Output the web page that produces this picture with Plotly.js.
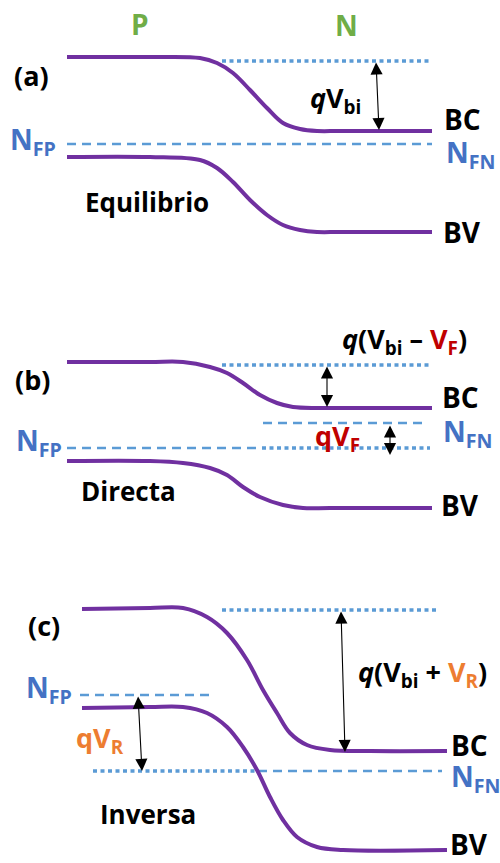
<!DOCTYPE html>
<html>
<head>
<meta charset="utf-8">
<script src="https://cdn.plot.ly/plotly-3.0.1.min.js"></script>
<style>html,body{margin:0;padding:0;background:#fff;}#chart{width:500px;height:863px;}</style>
</head>
<body>
<div id="chart"></div>
<script>
// ---- Panel (a): Equilibrio ----
const cbA_x = [67,150,200,217,233,250,267,283,300,317,340,432];
const cbA_y = [57,57,58,63,73,90,108,123,129,131,131,131];
const vbA_x = [67,150,200,217,233,250,267,283,300,317,340,432];
const vbA_y = [157,157,160,168,182,200,215,225,230,232,232,232];
const efA_x = [67,432];     const efA_y = [144,144];
const refA_x = [222,430];   const refA_y = [61,61];

// ---- Panel (b): Directa ----
const cbB_x = [67,150,183,210,227,243,260,277,293,317,340,432];
const cbB_y = [362,362,362,367,373,383,395,403,407,408,408,408];
const vbB_x = [67,150,183,210,227,243,260,283,303,330,432];
const vbB_y = [461,461,463,468,475,487,497,505,508,508,508];
const refB_x = [222,430];   const refB_y = [365,365];
const efpB_x = [67,262];    const efpB_y = [448,448];
const efpBdot_x = [262,430];const efpBdot_y = [448,448];
const efnB_x = [263,425];   const efnB_y = [423,423];

// ---- Panel (c): Inversa ----
const cbC_x = [82,150,183,207,227,247,263,277,290,307,330,370,447];
const cbC_y = [609,608,608,617,633,660,690,713,733,745,750,751,751];
const vbC_x = [82,150,183,207,227,243,257,270,283,297,317,343,447];
const vbC_y = [708,707,707,713,727,747,770,797,820,837,847,850,850];
const refC_x = [222,437];   const refC_y = [610,610];
const efpC_x = [80,212];    const efpC_y = [695,695];
const efnCdot_x = [93,258]; const efnCdot_y = [771,771];
const efnC_x = [258,442];   const efnC_y = [771,771];

// arrows: [xTail, yTail, xHead, yHead]
const arrowsList = [
  [376,61,379,130],
  [327,365,327,407],
  [390,424,390,455],
  [341,610,345,752],
  [138,695,142,771]
];

const PURPLE = '#7030A0', LBLUE = '#5B9BD5', BLUE = '#4472C4';
const GREEN = '#70AD47', RED = '#C00000', ORANGE = '#ED7D31';
const DOT = '4px,3.5px', DASH = '9px,6px';

function ln(x, y, color, width, dash, spline) {
  return {x: x, y: y, mode: 'lines', hoverinfo: 'skip',
    line: {color: color, width: width, dash: dash || 'solid', shape: spline ? 'spline' : 'linear', smoothing: 1}};
}

const traces = [
  ln(efA_x, efA_y, LBLUE, 2.5, DASH),
  ln(refA_x, refA_y, LBLUE, 3.3, DOT),
  ln(cbA_x, cbA_y, PURPLE, 4, null, true),
  ln(vbA_x, vbA_y, PURPLE, 4, null, true),

  ln(refB_x, refB_y, LBLUE, 3.3, DOT),
  ln(efpB_x, efpB_y, LBLUE, 2.5, DASH),
  ln(efpBdot_x, efpBdot_y, LBLUE, 3.3, DOT),
  ln(efnB_x, efnB_y, LBLUE, 2.5, DASH),
  ln(cbB_x, cbB_y, PURPLE, 4, null, true),
  ln(vbB_x, vbB_y, PURPLE, 4, null, true),

  ln(refC_x, refC_y, LBLUE, 3.3, DOT),
  ln(efpC_x, efpC_y, LBLUE, 2.5, DASH),
  ln(efnCdot_x, efnCdot_y, LBLUE, 3.3, DOT),
  ln(efnC_x, efnC_y, LBLUE, 2.5, DASH),
  ln(cbC_x, cbC_y, PURPLE, 4, null, true),
  ln(vbC_x, vbC_y, PURPLE, 4, null, true)
];

const FONT = '"Open Sans", Lato, sans-serif';
function txt(x, y, text, size, color, anchor) {
  return {x: x, y: y, xref: 'x', yref: 'y', text: text, showarrow: false,
    xanchor: anchor || 'center', yanchor: 'middle', borderpad: 0,
    font: {family: FONT, size: size, color: color || '#000', weight: 'bold'}};
}
const NFP = 'N<sub>FP</sub>', NFN = 'N<sub>FN</sub>';

const annotations = [
  txt(140, 24, 'P', 28, GREEN),
  txt(346, 25, 'N', 28, GREEN),

  txt(31, 75, '(a)', 27),
  txt(309, 99, '<i>q</i>V<sub>bi</sub>', 27, '#000', 'left'),
  txt(462, 119, 'BC', 28),
  txt(445, 154, NFN, 28, BLUE, 'left'),
  txt(9, 141, NFP, 28, BLUE, 'left'),
  txt(147, 202, 'Equilibrio', 26),
  txt(462, 232, 'BV', 28),

  txt(32, 379, '(b)', 27),
  txt(341, 340, '<i>q</i>(V<sub>bi</sub> \u2013 <span style="color:' + RED + '">V<sub>F</sub></span>)', 27, '#000', 'left'),
  txt(460, 397, 'BC', 28),
  txt(442, 433, NFN, 28, BLUE, 'left'),
  txt(460, 505, 'BV', 28),
  txt(314, 437, 'qV<sub>F</sub>', 27, RED, 'left'),
  txt(15, 442, NFP, 28, BLUE, 'left'),
  txt(128, 491, 'Directa', 26),

  txt(44, 625, '(c)', 27),
  txt(25, 689, NFP, 28, BLUE, 'left'),
  txt(75, 739, 'qV<sub>R</sub>', 27, ORANGE, 'left'),
  txt(148, 814, 'Inversa', 26),
  txt(357, 673, '<i>q</i>(V<sub>bi</sub> + <span style="color:' + ORANGE + '">V<sub>R</sub></span>)', 27, '#000', 'left'),
  txt(469, 745, 'BC', 28),
  txt(450, 778, NFN, 28, BLUE, 'left'),
  txt(469, 844, 'BV', 28)
];

arrowsList.forEach(function (a) {
  annotations.push({x: a[2], y: a[3], ax: a[0], ay: a[1], xref: 'x', yref: 'y', axref: 'x', ayref: 'y',
    text: '', showarrow: true, arrowhead: 2, startarrowhead: 2, arrowside: 'end+start',
    arrowsize: 2.2, startarrowsize: 2.2, arrowwidth: 1.1, arrowcolor: '#000', standoff: 0, startstandoff: 0});
});

const layout = {
  width: 500, height: 863,
  margin: {l: 0, r: 0, t: 0, b: 0},
  paper_bgcolor: '#fff', plot_bgcolor: '#fff',
  showlegend: false,
  xaxis: {range: [0, 500], visible: false, fixedrange: true},
  yaxis: {range: [863, 0], visible: false, fixedrange: true},
  annotations: annotations
};

Plotly.newPlot('chart', traces, layout, {staticPlot: true, displayModeBar: false});
</script>
</body>
</html>
